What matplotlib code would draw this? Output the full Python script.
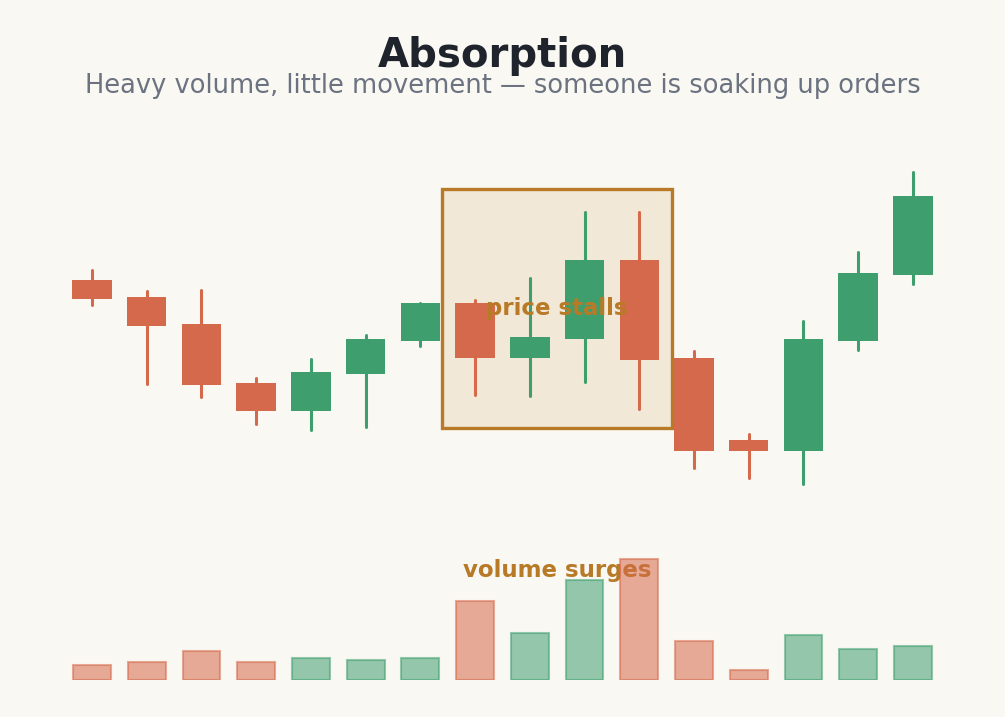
import matplotlib
matplotlib.use("Agg")
import matplotlib.pyplot as plt
from matplotlib.patches import Rectangle

# ローソク足データ (価格)
opens = [122.0, 120.3, 117.6, 111.7, 108.9, 112.6, 115.9, 119.7,
         114.2, 116.1, 124.0, 114.2, 106.0, 104.9, 115.9, 122.5]
closes = [120.1, 117.4, 111.5, 108.9, 112.8, 116.1, 119.7, 114.2,
          116.3, 124.0, 114.0, 104.9, 104.9, 116.1, 122.7, 130.4]
highs = [123.1, 121.0, 121.1, 112.3, 114.2, 116.6, 119.8, 120.1,
         122.3, 128.9, 128.9, 115.0, 106.7, 118.0, 124.9, 132.9]
lows = [119.6, 111.7, 110.4, 107.7, 107.1, 107.4, 115.5, 110.6,
        110.5, 111.9, 109.2, 103.3, 102.3, 101.7, 115.1, 121.7]
# 出来高
volumes = [1.5, 1.8, 2.9, 1.8, 2.2, 2.0, 2.2, 7.9,
           4.7, 10.0, 12.1, 3.9, 1.0, 4.5, 3.1, 3.4]

# 吸収ゾーン (ローソク足のインデックス)
zone_start, zone_end = 7, 10

BG = "#faf8f3"
UP = "#3f9e6e"
DOWN = "#d4694b"
ACCENT = "#b87a26"

fig = plt.figure(figsize=(10.05, 7.17), dpi=100, facecolor=BG)
W, H = 1005, 717

def axes_px(x0, x1, y_top, y_bot):
    return fig.add_axes([x0 / W, 1 - y_bot / H, (x1 - x0) / W, (y_bot - y_top) / H])

n = len(opens)
xs = list(range(n))

# 価格パネル
ax = axes_px(64.6, 940.3, 150.5, 500.5)
ax.set_xlim(-0.5, n - 0.5)
ax.set_ylim(100, 135)
ax.axis("off")

body_w = 0.72
for i in xs:
    o, c, h, l = opens[i], closes[i], highs[i], lows[i]
    col = UP if c >= o else DOWN
    ax.plot([i, i], [l, h], color=col, lw=2.2, solid_capstyle="round", zorder=3)
    ax.add_patch(Rectangle((i - body_w / 2, min(o, c)), body_w, abs(c - o),
                           facecolor=col, edgecolor="none", zorder=4))

# ハイライト枠
z_hi = max(highs[zone_start:zone_end + 1])
z_lo = min(lows[zone_start:zone_end + 1])
pad_x, pad_top, pad_bot = 0.6, 2.2, 2.0
ax.add_patch(Rectangle((zone_start - pad_x, z_lo - pad_bot),
                       zone_end - zone_start + 2 * pad_x,
                       z_hi - z_lo + pad_top + pad_bot,
                       facecolor="#f1e8d7", edgecolor=ACCENT, lw=2.4, zorder=1))
ax.text((zone_start + zone_end) / 2, (z_hi + pad_top + z_lo - pad_bot) / 2,
        "price stalls", ha="center", va="center", fontsize=16.5,
        fontweight="bold", color=ACCENT, zorder=5)

# 出来高パネル
vax = axes_px(64.6, 940.3, 541, 680)
vax.set_xlim(-0.5, n - 0.5)
vax.set_ylim(0, 13.9)
vax.axis("off")
for i in xs:
    col = UP if closes[i] >= opens[i] else DOWN
    vax.bar(i, volumes[i], width=0.69, color=col, alpha=0.55,
            edgecolor=col, linewidth=1.5, zorder=2)
vax.text((zone_start + zone_end) / 2, 10.9, "volume surges", ha="center",
         va="center", fontsize=16.5, fontweight="bold", color=ACCENT, zorder=1)

fig.text(0.5, 1 - 67 / H, "Absorption", ha="center", va="baseline",
         fontsize=29, fontweight="bold", color="#1f232b")
fig.text(0.5, 1 - 93 / H,
         "Heavy volume, little movement \u2014 someone is soaking up orders",
         ha="center", va="baseline", fontsize=18.5, color="#6b7280")

fig.savefig("out.png", dpi=100, facecolor=BG)
